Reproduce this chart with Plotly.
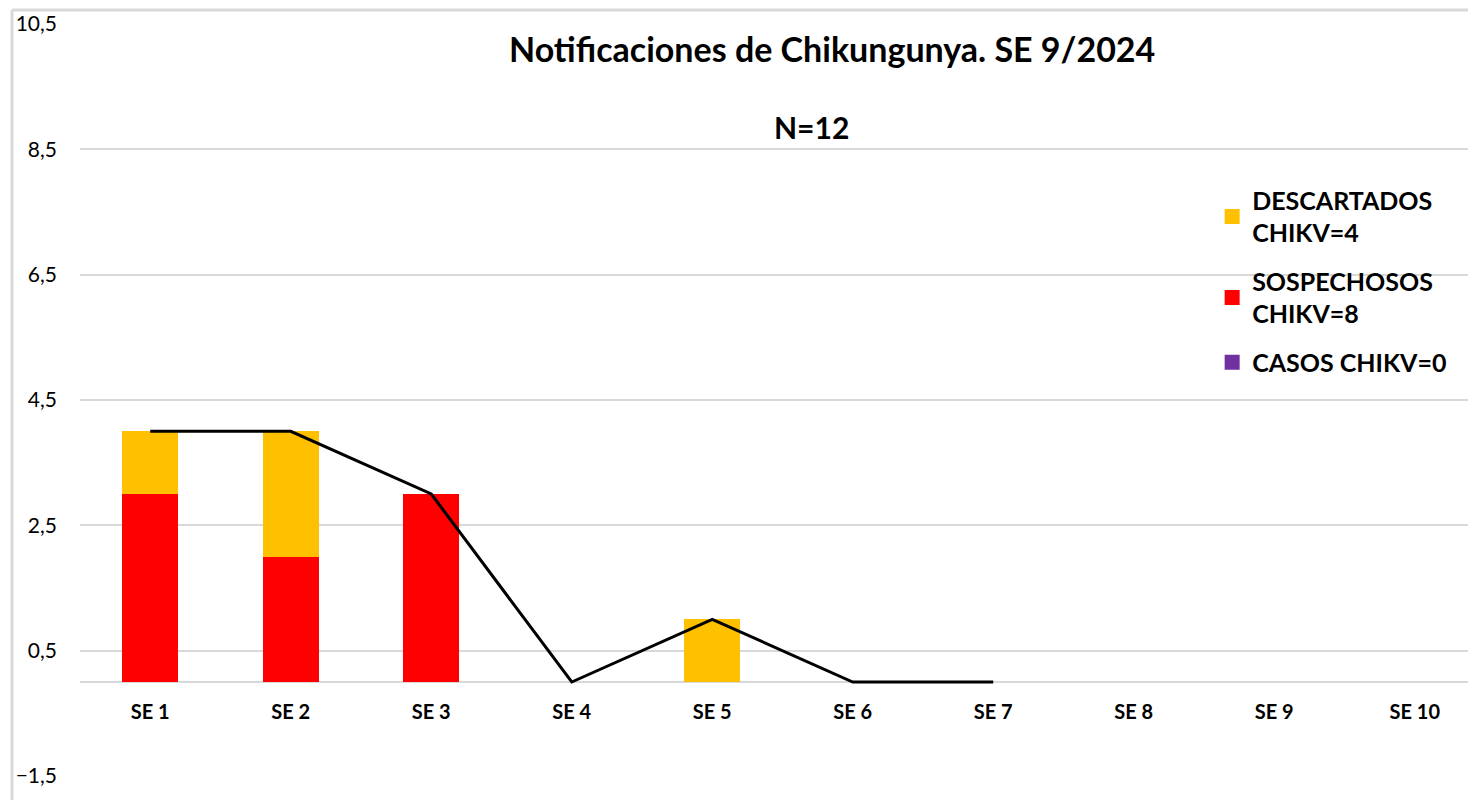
import plotly.graph_objects as go

categories = ["SE 1", "SE 2", "SE 3", "SE 4", "SE 5", "SE 6", "SE 7", "SE 8", "SE 9", "SE 10"]
casos = [0, 0, 0, 0, 0, 0, 0, 0, 0, 0]
sospechosos = [3, 2, 3, 0, 0, 0, 0, 0, 0, 0]
descartados = [1, 2, 0, 0, 1, 0, 0, 0, 0, 0]
line_cats = categories[:7]
total_line = [4, 4, 3, 0, 1, 0, 0]

legend_names = ["DESCARTADOS<br>CHIKV=4", "SOSPECHOSOS<br>CHIKV=8", "CASOS CHIKV=0"]
legend_colors = ["#FFC000", "#FF0000", "#7030A0"]

FONT = "Lato"
GRID = "#d9d9d9"

fig = go.Figure()
fig.add_trace(go.Bar(x=categories, y=casos, name="CASOS CHIKV=0", showlegend=False,
                     marker=dict(color="#7030A0", line=dict(width=0)), width=0.4))
fig.add_trace(go.Bar(x=categories, y=sospechosos, name="SOSPECHOSOS CHIKV=8", showlegend=False,
                     marker=dict(color="#FF0000", line=dict(width=0)), width=0.4))
fig.add_trace(go.Bar(x=categories, y=descartados, name="DESCARTADOS CHIKV=4", showlegend=False,
                     marker=dict(color="#FFC000", line=dict(width=0)), width=0.4))
fig.add_trace(go.Scatter(x=line_cats, y=total_line, mode="lines",
                         line=dict(color="black", width=3), showlegend=False))
for i, (nm, col) in enumerate(zip(legend_names, legend_colors)):
    fig.add_trace(go.Scatter(x=[None], y=[None], mode="markers", name=nm,
                             legendgroup=f"g{i}",
                             marker=dict(symbol="square", size=15, color=col)))

fig.update_layout(
    width=1468, height=792,
    margin=dict(l=72, r=0, t=16, b=24),
    paper_bgcolor="white", plot_bgcolor="white",
    barmode="stack",
    separators=",.",
    showlegend=True,
    legend=dict(traceorder="grouped", x=0.811, y=0.796, xanchor="left", yanchor="top",
                font=dict(family=FONT, size=25, color="black", weight="bold"),
                bgcolor="rgba(0,0,0,0)", tracegroupgap=13, itemwidth=30,
                itemsizing="trace"),
    xaxis=dict(type="category", categoryorder="array", categoryarray=categories,
               range=[-0.5, 9.436], anchor="free", position=0.125,
               showline=True, linecolor=GRID, linewidth=2, showgrid=False, ticks="",
               layer="below traces",
               tickfont=dict(family=FONT, size=20, color="black", weight="bold"),
               ticklabelstandoff=12),
    yaxis=dict(range=[-1.5, 10.5], tick0=-1.5, dtick=2, tickformat=".1f",
               showgrid=True, gridcolor=GRID, gridwidth=2, zeroline=False,
               showline=False, ticks="", ticklabelstandoff=22, layer="below traces",
               tickfont=dict(family=FONT, size=21, color="black")),
    annotations=[
        dict(text="<b>Notificaciones de Chikungunya. SE 9/2024</b>", xref="paper", yref="paper",
             x=0.539, y=0.968, xanchor="center", yanchor="middle", showarrow=False,
             font=dict(family=FONT, size=34, color="black")),
        dict(text="<b>N=12</b>", xref="paper", yref="paper",
             x=0.524, y=0.863, xanchor="center", yanchor="middle", showarrow=False,
             font=dict(family=FONT, size=30, color="black")),
    ],
    shapes=[
        dict(type="line", xref="paper", yref="paper", x0=-0.0487, x1=-0.0487, y0=-0.05, y1=1.0186,
             line=dict(color=GRID, width=3)),
        dict(type="line", xref="paper", yref="paper", x0=-0.0487, x1=1.01, y0=1.0186, y1=1.0186,
             line=dict(color=GRID, width=3)),
    ],
)

fig.write_html("out.html")
